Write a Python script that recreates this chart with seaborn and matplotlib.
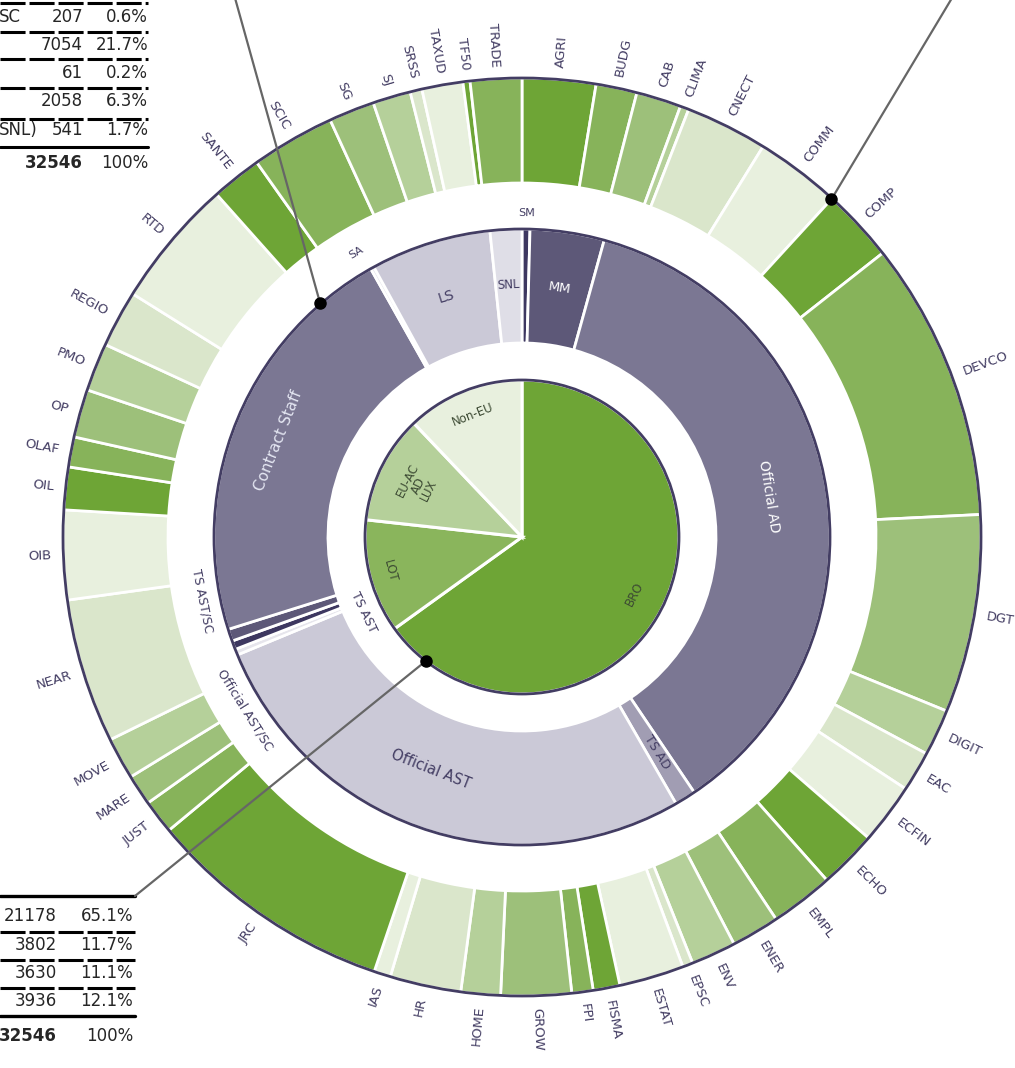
import numpy as np
import matplotlib
matplotlib.use("Agg")
import matplotlib.pyplot as plt
from matplotlib.patches import Circle
import seaborn as sns

# inner pie: place of work
site_labels = ["BRO", "LOT", "EU-AC\nAD\nLUX", "Non-EU"]
site_staff = [21178, 3802, 3630, 3936]
site_pct = ["65.1%", "11.7%", "11.1%", "12.1%"]

# middle ring: staff category
cat_labels = ["SM", "MM", "Official AD", "TS AD", "Official AST", "Official AST/SC",
              "TS AST", "TS AST/SC", "Contract Staff", "SA", "LS", "SNL"]
cat_staff = [135, 1265, 11800, 360, 8815, 100, 150, 207, 7054, 61, 2058, 541]

# outer ring: directorates-general
dg_labels = ["AGRI", "BUDG", "CAB", "CLIMA", "CNECT", "COMM", "COMP", "DEVCO", "DGT",
             "DIGIT", "EAC", "ECFIN", "ECHO", "EMPL", "ENER", "ENV", "EPSC", "ESTAT",
             "FISMA", "FPI", "GROW", "HOME", "HR", "IAS", "JRC", "JUST", "MARE", "MOVE",
             "NEAR", "OIB", "OIL", "OLAF", "OP", "PMO", "REGIO", "RTD", "SANTE", "SCIC",
             "SG", "SJ", "SRSS", "TAXUD", "TF50", "TRADE"]
dg_staff = [841, 470, 515, 99, 940, 976, 841, 3200, 2269, 533, 461, 696, 669, 723,
            551, 515, 118, 741, 307, 244, 805, 452, 814, 190, 2848, 389, 353, 479,
            1654, 1022, 488, 344, 551, 551, 651, 1474, 579, 958, 524, 434, 136, 470,
            81, 588]

# summary table, top left (cut by the frame)
top_rows = ["SC", "", "", "", "SNL)"]
top_staff = [207, 7054, 61, 2058, 541]
top_pct = ["0.6%", "21.7%", "0.2%", "6.3%", "1.7%"]
total_staff = 32546

W, H = 1015, 1068
cx, cy = 522, H - 537
navy = "#433d63"

sns.set_theme(style="white")
plt.rcParams["font.family"] = ["DejaVu Sans"]

greens = sns.color_palette(["#6ea536", "#87b35a", "#9dc07a", "#b5d09a", "#dae6cb", "#e8f0de"])
dg_colors = [greens[i % 6] for i in range(len(dg_staff))]
cat_colors = ["#3d3760", "#5d5878", "#7b7793", "#a19db3", "#cbc9d7", "#e6e5ec",
              "#3d3760", "#5d5878", "#7b7793", "#e6e5ec", "#cbc9d7", "#dfdee7"]
site_colors = ["#6ea536", "#8ab55c", "#b5d09a", "#e8f0de"]

fig = plt.figure(figsize=(W / 100, H / 100), dpi=100)
ax = fig.add_axes([0, 0, 1, 1])


def Y(y):
    return H - y


def polar(r, th):
    t = np.deg2rad(th)
    return cx + r * np.sin(t), cy + r * np.cos(t)


def norm(rot):
    return (rot + 90) % 180 - 90


ring = dict(startangle=90, counterclock=False, center=(cx, cy))
ax.pie(dg_staff, radius=459, colors=dg_colors,
       wedgeprops=dict(width=105, edgecolor="white", linewidth=2), **ring)
ax.pie(cat_staff, radius=308, colors=cat_colors,
       wedgeprops=dict(width=114, edgecolor="white", linewidth=2), **ring)
ax.pie(site_staff, radius=157, colors=site_colors,
       wedgeprops=dict(edgecolor="white", linewidth=2.2), **ring)
for r in (459, 308, 157):
    ax.add_patch(Circle((cx, cy), r, fill=False, ec=navy, lw=2, zorder=5))

# outer labels, radial
cum = np.cumsum([0] + dg_staff) / sum(dg_staff) * 360
for lab, a, b in zip(dg_labels, cum[:-1], cum[1:]):
    mid = (a + b) / 2
    x, y = polar(471, mid)
    if mid < 180:
        rot, ha = 90 - mid, "left"
    else:
        rot, ha = 270 - mid, "right"
    ax.text(x, y, lab, rotation=rot, ha=ha, va="center", rotation_mode="anchor",
            fontsize=9.5, color=navy)

# middle labels
cum = np.cumsum([0] + cat_staff) / sum(cat_staff) * 360
mids = dict(zip(cat_labels, (cum[:-1] + cum[1:]) / 2))
cat_text = [
    # label, radius, angle, orientation, colour, size
    ("SM", 324, 0.8, "tan", navy, 8),
    ("MM", 252, mids["MM"], "tan", "white", 9.5),
    ("Official AD", 250, mids["Official AD"], "tan", "white", 10),
    ("TS AD", 254, mids["TS AD"], "rad", navy, 9),
    ("Official AST", 250, 201.5, "tan", navy, 10.5),
    ("Official AST/SC", 327, 238, "tan", navy, 9),
    ("TS AST", 176, 244.5, "tan", navy, 9),
    ("TS AST/SC", 326, 258.7, "tan", navy, 9),
    ("Contract Staff", 262, mids["Contract Staff"], "tan", "#e4e6f2", 11),
    ("SA", 329, 329.7, "tan", navy, 8),
    ("LS", 252, mids["LS"], "tan", navy, 10),
    ("SNL", 252, mids["SNL"], "tan", navy, 8.5),
]
for lab, r, th, mode, col, fs in cat_text:
    x, y = polar(r, th)
    rot = norm(-th) if mode == "tan" else norm(90 - th)
    ax.text(x, y, lab, rotation=rot, ha="center", va="center",
            rotation_mode="anchor", fontsize=fs, color=col, zorder=6)

# inner labels
cum = np.cumsum([0] + site_staff) / sum(site_staff) * 360
for lab, a, b, r in zip(site_labels, cum[:-1], cum[1:], [126, 136, 116, 132]):
    mid = (a + b) / 2
    x, y = polar(r, mid)
    ax.text(x, y, lab, rotation=norm(-mid), ha="center", va="center",
            rotation_mode="anchor", fontsize=8.5, color="#3c4a33",
            linespacing=0.9, zorder=6)

# leader lines with dots
for (r, th), (ex, ey) in [((157, 217.8), (135, 896)), ((309, 319.2), (235, -2)),
                          ((458, 42.5), (952, -2))]:
    x, y = polar(r, th)
    ax.plot([x, ex], [y, Y(ey)], color="#666666", lw=1.6, zorder=7)
    ax.plot(x, y, "o", color="black", ms=8, zorder=8)

# top-left table
dash = (0, (8.2, 1.3))
for yy in (3, 32, 59, 88, 119):
    ax.plot([0, 148], [Y(yy), Y(yy)], color="black", lw=2.2, ls=dash)
ax.plot([0, 148], [Y(147), Y(147)], color="black", lw=2.2)
for lab, n, p, yy in zip(top_rows, top_staff, top_pct, [17, 45, 73, 101, 130]):
    ax.text(-1, Y(yy), lab, ha="left", va="center", fontsize=12)
    ax.text(83, Y(yy), f"{n}", ha="right", va="center", fontsize=12)
    ax.text(148, Y(yy), p, ha="right", va="center", fontsize=12)
ax.text(83, Y(163), f"{total_staff}", ha="right", va="center", fontsize=12,
        fontweight="bold")
ax.text(148, Y(163), "100%", ha="right", va="center", fontsize=12)

# bottom-left table
ax.plot([0, 135], [Y(896), Y(896)], color="black", lw=2.4)
for yy in (932, 960, 988):
    ax.plot([0, 135], [Y(yy), Y(yy)], color="black", lw=2.2, ls=dash)
ax.plot([0, 135], [Y(1016), Y(1016)], color="black", lw=2.4)
for n, p, yy in zip(site_staff, site_pct, [916, 945, 973, 1001]):
    ax.text(57, Y(yy), f"{n}", ha="right", va="center", fontsize=12)
    ax.text(133, Y(yy), p, ha="right", va="center", fontsize=12)
ax.text(57, Y(1036), f"{total_staff}", ha="right", va="center", fontsize=12,
        fontweight="bold")
ax.text(133, Y(1036), "100%", ha="right", va="center", fontsize=12)

ax.set_xlim(0, W)
ax.set_ylim(0, H)
ax.set_aspect("auto")
ax.set_axis_off()
fig.savefig("out.png", dpi=100)
